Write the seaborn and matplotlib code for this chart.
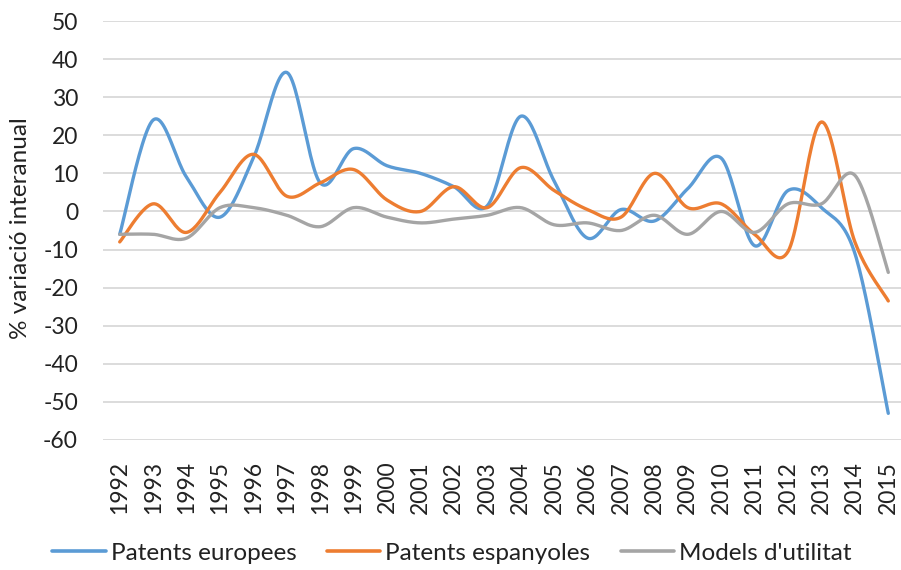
import matplotlib
import numpy as np
import pandas as pd
import seaborn as sns

matplotlib.use("Agg")
import matplotlib.pyplot as plt


YEARS = [str(y) for y in range(1992, 2016)]

PATENTS_EUROPEES = [-6, 24, 9, -1.5, 14, 36.5, 7.5, 16.5, 12, 10, 6.5, 1.5,
                    25, 8, -7, 0.5, -2.5, 6, 14, -9, 5.5, 1, -11, -53]
PATENTS_ESPANYOLES = [-8, 2, -5.5, 5, 15, 4, 7.5, 11, 3, 0, 6.5, 1,
                      11.5, 5.5, 0.5, -1.5, 10, 1, 2, -6, -10.5, 23.5, -8, -23.5]
MODELS_UTILITAT = [-6, -6, -7, 1, 1, -1, -4, 1, -1.5, -3, -2, -1,
                   1, -3.5, -3, -5, -1, -6, 0, -5.5, 2, 2, 9.5, -16]

SERIES = {
    "Patents europees": PATENTS_EUROPEES,
    "Patents espanyoles": PATENTS_ESPANYOLES,
    "Models d'utilitat": MODELS_UTILITAT,
}
COLORS = {
    "Patents europees": "#5B9BD5",
    "Patents espanyoles": "#ED7D31",
    "Models d'utilitat": "#A5A5A5",
}


def smooth(values, steps=24):
    # Excel-style smoothed line: Catmull-Rom bezier with 1/6 tension
    x = np.arange(len(values), dtype=float)
    y = np.asarray(values, dtype=float)
    pts = np.column_stack([x, y])
    padded = np.vstack([pts[0], pts, pts[-1]])
    out = []
    t = np.linspace(0, 1, steps, endpoint=False)[:, None]
    for i in range(len(pts) - 1):
        p0, p1, p2, p3 = padded[i], padded[i + 1], padded[i + 2], padded[i + 3]
        c1 = p1 + (p2 - p0) / 6
        c2 = p2 - (p3 - p1) / 6
        seg = ((1 - t) ** 3) * p1 + 3 * ((1 - t) ** 2) * t * c1 + 3 * (1 - t) * t ** 2 * c2 + t ** 3 * p2
        out.append(seg)
    out.append(pts[-1][None, :])
    out = np.vstack(out)
    return out[:, 0], out[:, 1]


def build_frame():
    rows = []
    for name, vals in SERIES.items():
        sx, sy = smooth(vals)
        for order, (a, b) in enumerate(zip(sx, sy)):
            rows.append({"serie": name, "pos": a, "valor": b, "order": order})
    return pd.DataFrame(rows)


def main():
    sns.set_theme(style="white")
    plt.rcParams["font.family"] = ["Lato", "DejaVu Sans"]
    plt.rcParams["axes.unicode_minus"] = False

    fig = plt.figure(figsize=(9.01, 5.70), dpi=100)
    ax = fig.add_axes([103 / 901, 1 - 440 / 570, 802 / 901, 419 / 570])

    df = build_frame()
    sns.lineplot(data=df, x="pos", y="valor", hue="serie", palette=COLORS,
                 sort=False, estimator=None, linewidth=2.4, ax=ax, legend=False)

    ax.set_xlim(-0.5, len(YEARS) - 0.5)
    ax.set_ylim(-60, 50)
    ax.set_yticks(range(-60, 51, 10))
    ax.set_xticks(range(len(YEARS)))
    ax.set_xticklabels(YEARS, rotation=90, va="top")
    ax.tick_params(axis="x", length=0, pad=15, labelsize=16.5, colors="#222222")
    ax.tick_params(axis="y", length=0, pad=18, labelsize=16.5, colors="#222222")
    ax.yaxis.grid(True, color="#D9D9D9", linewidth=1.3)
    ax.set_axisbelow(True)
    for s in ax.spines.values():
        s.set_visible(False)
    ax.set_xlabel("")
    ax.set_ylabel("")

    fig.text(21 / 901, 1 - 228 / 570, "% variació interanual", rotation=90,
             ha="center", va="center", fontsize=17.5, color="#222222")

    handles = [plt.Line2D([], [], color=COLORS[n], linewidth=2.6) for n in SERIES]
    fig.legend(handles, list(SERIES), loc="center", bbox_to_anchor=(452 / 901, 1 - 553 / 570),
               ncol=3, frameon=False, fontsize=17.5, handlelength=2.2, handletextpad=0.2,
               columnspacing=1.25, labelcolor="#222222")

    fig.savefig("out.png", dpi=100, facecolor="white")
    plt.close(fig)


if __name__ == "__main__":
    main()
